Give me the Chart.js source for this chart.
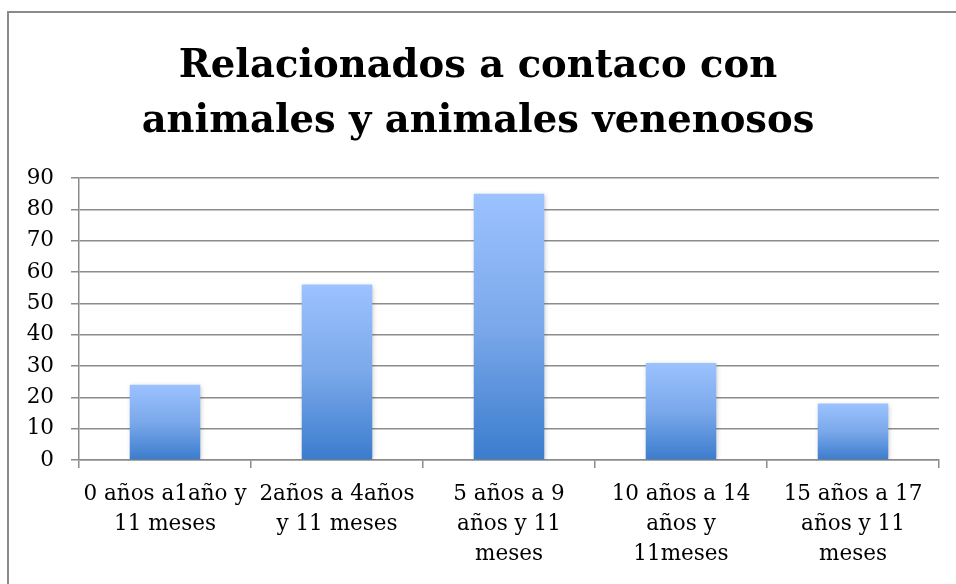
<!DOCTYPE html>
<html>
<head>
<meta charset="utf-8">
<script src="https://cdn.jsdelivr.net/npm/chart.js@4/dist/chart.umd.min.js"></script>
<style>
  html, body { margin: 0; padding: 0; background: #fff; }
  #wrap { width: 956px; height: 584px; position: relative; }
</style>
</head>
<body>
<div id="wrap"><canvas id="barChart"></canvas></div>
<script>
// datos
const titulo = ['Relacionados a contaco con', 'animales y animales venenosos'];
const categorias = [
  ['0 años a1año y', '11 meses'],
  ['2años a 4años', 'y 11 meses'],
  ['5 años a 9', 'años y 11', 'meses'],
  ['10 años a 14', 'años y', '11meses'],
  ['15 años a 17', 'años y 11', 'meses']
];
const valores = [24, 56, 85, 31, 18];
const ticksY = [0, 10, 20, 30, 40, 50, 60, 70, 80, 90];

const fuente = "'DejaVu Serif', serif";

// degradado por barra (claro arriba, oscuro abajo)
function colorBarra(ctx) {
  const chart = ctx.chart;
  if (!chart.chartArea || !chart.scales.y) return '#6a9be0';
  const y = chart.scales.y;
  const top = y.getPixelForValue(ctx.raw);
  const base = y.getPixelForValue(0);
  const g = chart.ctx.createLinearGradient(0, top, 0, base);
  g.addColorStop(0, '#9cc2ff');
  g.addColorStop(0.5, '#7aa8ea');
  g.addColorStop(1, '#3b7ccd');
  return g;
}

// marco exterior del gráfico
const marco = {
  id: 'marco',
  beforeDraw(chart) {
    const c = chart.ctx;
    c.save();
    c.strokeStyle = '#8a8a8a';
    c.lineWidth = 2;
    c.beginPath();
    c.moveTo(8, chart.height);
    c.lineTo(8, 12);
    c.lineTo(chart.width, 12);
    c.stroke();
    c.restore();
  }
};

// sombra suave de las barras
const sombra = {
  id: 'sombra',
  beforeDatasetsDraw(chart) {
    chart.ctx.save();
    chart.ctx.shadowColor = 'rgba(0,0,0,0.25)';
    chart.ctx.shadowBlur = 5;
    chart.ctx.shadowOffsetX = 1;
    chart.ctx.shadowOffsetY = 1;
  },
  afterDatasetsDraw(chart) {
    chart.ctx.restore();
  }
};

new Chart(document.getElementById('barChart'), {
  type: 'bar',
  data: {
    labels: categorias,
    datasets: [{
      data: valores,
      backgroundColor: colorBarra,
      borderWidth: 0,
      categoryPercentage: 1,
      barPercentage: 0.41
    }]
  },
  options: {
    responsive: true,
    maintainAspectRatio: false,
    animation: false,
    layout: { padding: { left: 17, right: 17, top: 0, bottom: 0 } },
    plugins: {
      legend: { display: false },
      tooltip: { enabled: false },
      title: {
        display: true,
        text: titulo,
        color: '#000',
        font: { family: fuente, size: 38.5, weight: 'bold', lineHeight: 1.43 },
        padding: { top: 39, bottom: 29 }
      }
    },
    scales: {
      y: {
        min: 0,
        max: 90,
        afterFit(scale) { scale.width = 62; },
        afterBuildTicks(scale) { scale.ticks = ticksY.map(v => ({ value: v })); },
        ticks: {
          color: '#000',
          padding: 17,
          font: { family: fuente, size: 21.5 }
        },
        grid: {
          color: '#8c8c8c',
          lineWidth: 1.5,
          tickLength: 8,
          drawTicks: true
        },
        border: { display: true, color: '#8c8c8c', width: 1.5 }
      },
      x: {
        afterFit(scale) { scale.height = 124; },
        ticks: {
          color: '#000',
          maxRotation: 0,
          minRotation: 0,
          autoSkip: false,
          padding: 11,
          font: { family: fuente, size: 21.5, lineHeight: 1.4 }
        },
        grid: {
          offset: true,
          drawOnChartArea: false,
          drawTicks: true,
          tickLength: 8,
          color: '#8c8c8c',
          lineWidth: 1.5
        },
        border: { display: true, color: '#8c8c8c', width: 1.5 }
      }
    }
  },
  plugins: [marco, sombra]
});
</script>
</body>
</html>
